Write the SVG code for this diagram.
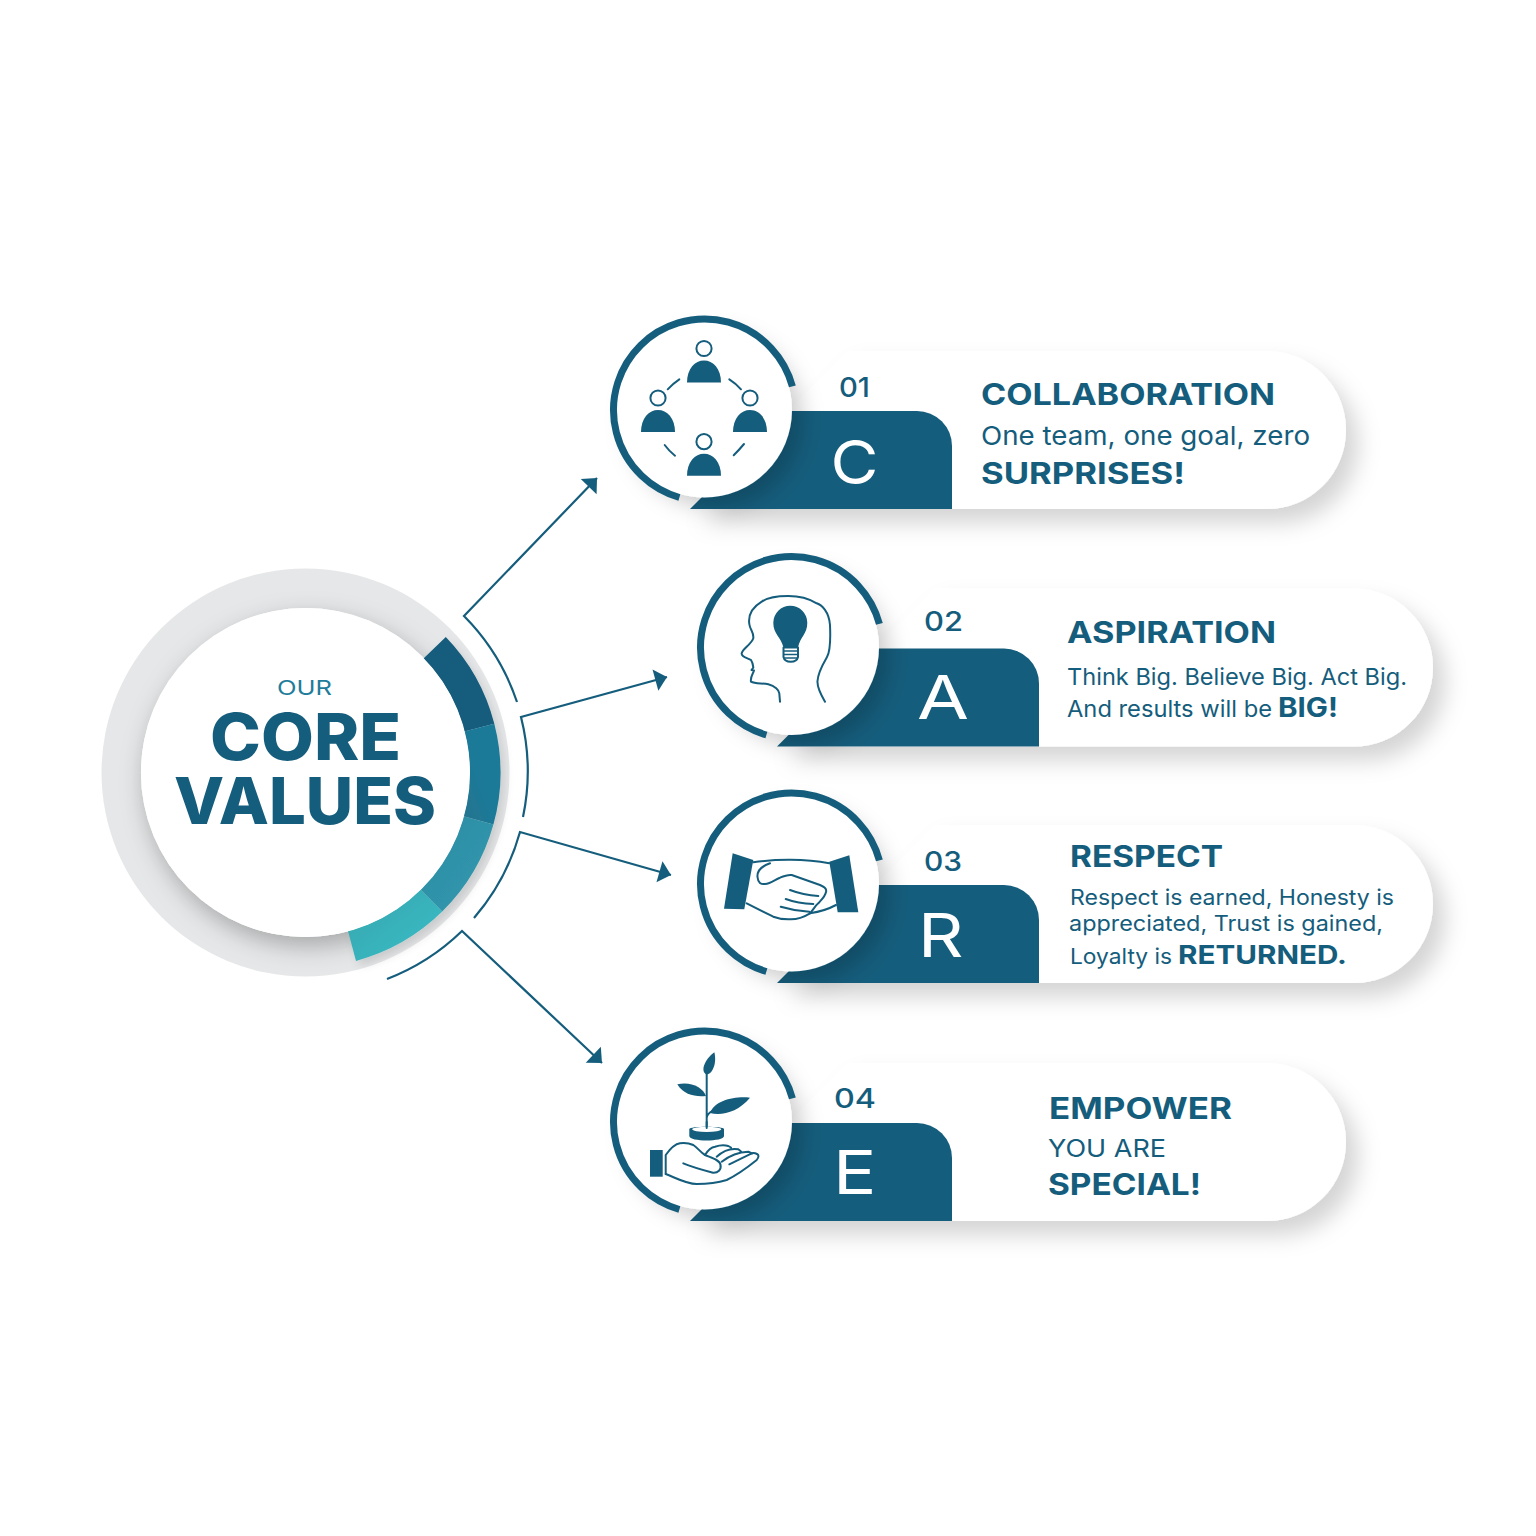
<svg xmlns="http://www.w3.org/2000/svg" xmlns:xlink="http://www.w3.org/1999/xlink" width="1536" height="1536" viewBox="0 0 1536 1536">
<style>
text{font-family:Inter,"Open Sans","Liberation Sans",sans-serif;fill:#155d7c}
.h{font-size:30px;font-weight:700}
.b{font-size:26px;font-weight:400}
.b2{font-size:23px;font-weight:400}
.b3{font-size:21.5px;font-weight:400}
.n{font-size:27px;font-weight:500}
.l{font-size:61px;font-weight:400;fill:#fff}
.t{font-size:64px;font-weight:800}
.thin{fill:none;stroke:#155d7c;stroke-width:2;stroke-linecap:round;stroke-linejoin:round}
.dark{fill:#155d7c}
.tab{fill:#155d7c}
.ring{fill:none;stroke:#155d7c;stroke-width:7}
.conn{fill:none;stroke:#155d7c;stroke-width:2.2;stroke-linejoin:miter;marker-end:url(#arrow)}
</style>
<defs>
<marker id="arrow" markerUnits="userSpaceOnUse" markerWidth="30" markerHeight="30" refX="15" refY="15" orient="auto" viewBox="0 0 30 30">
<path d="M3,4 L15,15 L3,26 Z" fill="#155d7c" stroke="none"/>
</marker>
<filter id="pillShadow" x="-10%" y="-30%" width="125%" height="180%"><feDropShadow dx="12" dy="14" stdDeviation="11" flood-color="#000" flood-opacity=".17"/></filter>
<filter id="circShadow" x="-30%" y="-30%" width="170%" height="170%"><feDropShadow dx="10" dy="10" stdDeviation="11" flood-color="#000" flood-opacity=".2"/></filter>
<filter id="coreShadow" x="-20%" y="-20%" width="145%" height="145%"><feDropShadow dx="4" dy="9" stdDeviation="12" flood-color="#000" flood-opacity=".28"/></filter>
<filter id="segShadow" x="-30%" y="-30%" width="170%" height="170%"><feDropShadow dx="4" dy="5" stdDeviation="5" flood-color="#000" flood-opacity=".12"/></filter>
<linearGradient id="s2" x1="0" y1="1" x2="1" y2="0"><stop offset="0" stop-color="#27748e"/><stop offset=".5" stop-color="#1a7a99"/></linearGradient>
<linearGradient id="s3" x1="0" y1="0" x2="1" y2="1"><stop offset="0" stop-color="#2b8ca3"/><stop offset="1" stop-color="#3399b0"/></linearGradient>
<linearGradient id="s4" x1="0" y1="0" x2="1" y2="1"><stop offset="0" stop-color="#37a5ae"/><stop offset=".8" stop-color="#39b9c2"/></linearGradient>
<g id="shape">
<path filter="url(#pillShadow)" fill="#fff" d="M-14.5,99 L143.5,-59 H562.5 A79,79 0 0 1 562.5,99 Z"/>
<path class="tab" d="M-14.5,99 L83.5,1 H212.5 A35,35 0 0 1 247.5,36 V99 Z"/>
<circle r="87.5" fill="#fff" filter="url(#circShadow)"/>
<path class="ring" d="M87.9,-23.6 A91,91 0 1 0 -25.1,87.5"/>
</g>
<g id="person">
<circle cx="0" cy="-34" r="7.6" fill="#fff" stroke="#155d7c" stroke-width="2"/>
<path class="dark" d="M-17,0 C-17,-14 -9,-22 0,-22 C9,-22 17,-14 17,0 Z"/>
</g>
</defs>
<rect width="1536" height="1536" fill="#fff"/>

<g id="core">
<circle cx="305.5" cy="772.5" r="204" fill="#e6e7e8"/>
<circle cx="305.5" cy="772.5" r="164.5" fill="#fff" filter="url(#coreShadow)"/>
<g filter="url(#segShadow)">
<path fill="#155c7c" d="M445.8,637 A195,195 0 0 1 494.3,723.7 L464.3,731.4 A164,164 0 0 0 423.5,658.6 Z"/>
<path fill="url(#s2)" d="M494.3,723.7 A195,195 0 0 1 493.4,824.6 L463.5,816.3 A164,164 0 0 0 464.3,731.4 Z"/>
<path fill="url(#s3)" d="M493.4,824.6 A195,195 0 0 1 442.2,911.6 L420.5,889.5 A164,164 0 0 0 463.5,816.3 Z"/>
<path fill="url(#s4)" d="M442.2,911.6 A195,195 0 0 1 356,960.9 L348,930.9 A164,164 0 0 0 420.5,889.5 Z"/>
</g>
<circle cx="305.5" cy="772.5" r="164.5" fill="#fff"/>
<text x="277" y="695" font-size="20" font-weight="400" style="fill:#1f7d9b" textLength="55" lengthAdjust="spacingAndGlyphs">OUR</text>
<text class="t"><tspan x="210" y="760" textLength="191" lengthAdjust="spacingAndGlyphs">CORE</tspan><tspan x="174" y="824" textLength="262" lengthAdjust="spacingAndGlyphs">VALUES</tspan></text>
</g>

<g id="connectors">
<path class="conn" d="M517,702 A222.5,222.5 0 0 0 464,616 L597,478"/>
<path class="conn" d="M523,817 A222.5,222.5 0 0 0 521,717 L667,677"/>
<path class="conn" d="M474,918 A222.5,222.5 0 0 0 520,832 L671,875"/>
<path class="conn" d="M387,979 A222.5,222.5 0 0 0 462,931 L602,1063"/>
</g>

<g id="node-c">
<use href="#shape" x="704.5" y="410"/>
<use href="#person" x="704" y="382.5"/>
<use href="#person" x="658" y="432"/>
<use href="#person" x="750" y="432"/>
<use href="#person" x="704" y="475.7"/>
<path class="thin" d="M667.7,389.3 Q673,383.5 679.3,379.3 M729.3,379.3 Q736,383.5 741,389.3 M664.7,445 Q669,451 675,455.7 M744,444 Q739,450 733.7,455.3"/>
<text class="n" x="839" y="397" textLength="31" lengthAdjust="spacingAndGlyphs">01</text>
<text class="l" x="830.5" y="484" textLength="48" lengthAdjust="spacingAndGlyphs">C</text>
<text class="h" x="981" y="405" textLength="294" lengthAdjust="spacingAndGlyphs">COLLABORATION</text>
<text class="b" x="981" y="445" textLength="329" lengthAdjust="spacingAndGlyphs">One team, one goal, zero</text>
<text class="h" x="981" y="484" textLength="204" lengthAdjust="spacingAndGlyphs">SURPRISES!</text>
</g>

<g id="node-a">
<use href="#shape" x="791.5" y="647.5"/>
<path class="thin" d="M825,701.7 C820,693 817,687 817.5,681 C818,672 823,664 827,657 C831,650 830.5,636 830,625 C829,612 822,605 816.7,603.3 C808,598 798,596 788.3,596 C778,596 768,597 761.7,601.7 C753,607 748,615 749.3,624 C750,630 754,632 753.3,638.3 C751,645 743,648 741.7,653.3 C741,657 748,658 751,660 C753,663 753,665 753.3,667.7 L751.5,670 L754,670.5 C753,674 750,677 751,681.7 C755,684 762,683 768.3,684.3 C775,686 779,690 779.3,693.3 L780,701.7"/>
<path class="dark" d="M783.5,647.5 C781,637 773.3,634 773.3,622.7 A17,17 0 0 1 807.3,622.7 C807.3,634 800,637 798,647.5 Z"/>
<path class="thin" d="M783.5,647.5 H798 V657 Q797,661.7 790.7,661.7 Q784.5,661.7 783.5,657 Z"/>
<path d="M784,651 H797.5 M784,654.5 H797.5 M784,658 H797.5" stroke="#155d7c" stroke-width="1.7" fill="none"/>
<text class="n" x="924" y="631" textLength="39" lengthAdjust="spacingAndGlyphs">02</text>
<text class="l" x="917" y="719" textLength="52" lengthAdjust="spacingAndGlyphs">A</text>
<text class="h" x="1067" y="643" textLength="209" lengthAdjust="spacingAndGlyphs">ASPIRATION</text>
<text class="b2" x="1067" y="685" textLength="340" lengthAdjust="spacingAndGlyphs">Think Big. Believe Big. Act Big.</text>
<text class="b2" x="1067" y="717" textLength="205" lengthAdjust="spacingAndGlyphs">And results will be</text>
<text x="1278" y="717" font-size="27" font-weight="700" textLength="60" lengthAdjust="spacingAndGlyphs">BIG!</text>
</g>

<g id="node-r">
<use href="#shape" x="791.5" y="884"/>
<polygon class="dark" points="732.7,853.3 753.3,860 744.3,909.3 724,908.7"/>
<polygon class="dark" points="829.3,861.7 849.3,855.3 858.3,912.3 837.7,912.3"/>
<path class="thin" d="M753.3,862.3 C775,859 805,858.5 829.3,863.3"/>
<path class="thin" d="M770,863.3 C762,866 757,871 757.5,877 C758,883 761,884.5 765,884 C771,883.5 775,879.5 780,877.7 C785,875.5 788,874.5 791.7,875 L820,885 C825,887 827,889 826,892 C825,897 821,900 818.3,903.3 C815,906 814,909 810,913.3 C804,917 797,919.5 790,919.3 C783,919.5 778,918.5 773.3,916.7 L746.7,903.3"/>
<path class="thin" d="M790,890 Q803,895 818.3,896 M785.7,899 Q798,903.5 813.3,904 M780.7,906.7 Q795,911 809.3,911.7 M810,913.3 Q825,911 836,905"/>
<text class="n" x="924" y="871" textLength="38" lengthAdjust="spacingAndGlyphs">03</text>
<text class="l" x="918" y="957" textLength="45.5" lengthAdjust="spacingAndGlyphs">R</text>
<text class="h" x="1070" y="867" font-size="31" textLength="153" lengthAdjust="spacingAndGlyphs">RESPECT</text>
<text class="b3" x="1070" y="905" textLength="324" lengthAdjust="spacingAndGlyphs">Respect is earned, Honesty is</text>
<text class="b3" x="1069" y="931" textLength="314" lengthAdjust="spacingAndGlyphs">appreciated, Trust is gained,</text>
<text class="b3" x="1070" y="964" textLength="102" lengthAdjust="spacingAndGlyphs">Loyalty is</text>
<text x="1178" y="964" font-size="26" font-weight="700" textLength="169" lengthAdjust="spacingAndGlyphs">RETURNED.</text>
</g>

<g id="node-e">
<use href="#shape" x="704.5" y="1122"/>
<path class="dark" d="M714.3,1052.3 C704,1060 700,1072 706.7,1074.5 C713,1074 717,1062 714.3,1052.3 Z"/>
<path class="dark" d="M677.3,1084.3 C690,1081 703,1087 706,1096 C695,1097 684,1095 677.3,1084.3 Z"/>
<path class="dark" d="M750,1097.7 C735,1096 715,1100 710,1113 C722,1116 738,1112 750,1097.7 Z"/>
<path class="thin" d="M706.7,1073 V1128 M706.7,1118 Q707,1114 712,1111"/>
<path class="dark" d="M689.3,1129 C689.3,1126 724,1126 724,1129 V1136 C724,1142 689.3,1142 689.3,1136 Z"/>
<ellipse cx="706.7" cy="1129.3" rx="14.5" ry="2.6" fill="#fff"/>
<path class="thin" d="M706.7,1122 V1128"/>
<rect class="dark" x="650" y="1150" width="12.7" height="26.7"/>
<path class="thin" d="M665.7,1174 L665.7,1155 C670,1149 675,1144 680,1143.3 C687,1142.5 691,1144 693.3,1145 C698,1148 701,1153 705,1155 C712,1158 720,1160 720.5,1165 C721.5,1170 718,1173 713,1172.7 C703,1170 692,1167 683.3,1163.3"/>
<path class="thin" d="M665.7,1174 C676,1178 686,1184 696.7,1184 C707,1184 717,1183 726.7,1180 C737,1175 748,1167 756.7,1160 C759,1157 759,1155 757,1154 C755,1153 753,1153 751.7,1153.3 L729.3,1164.3"/>
<path class="thin" d="M705,1155 C708,1150 712,1147 715,1146.7 C720,1145 725,1145 728.3,1146 L731,1147.5 M716.7,1156.7 C723,1151 731,1148 738.3,1149.3 L741,1151.5 M721.7,1161.7 C729,1156 739,1152 748.3,1151.7 L752,1153.5"/>
<text class="n" x="834" y="1108" textLength="42" lengthAdjust="spacingAndGlyphs">04</text>
<text class="l" x="833" y="1194" textLength="43.5" lengthAdjust="spacingAndGlyphs">E</text>
<text class="h" x="1049" y="1119" textLength="183" lengthAdjust="spacingAndGlyphs">EMPOWER</text>
<text x="1048" y="1157" font-size="24" font-weight="400" textLength="118" lengthAdjust="spacingAndGlyphs">YOU ARE</text>
<text class="h" x="1048" y="1195" textLength="153" lengthAdjust="spacingAndGlyphs">SPECIAL!</text>
</g>
</svg>
